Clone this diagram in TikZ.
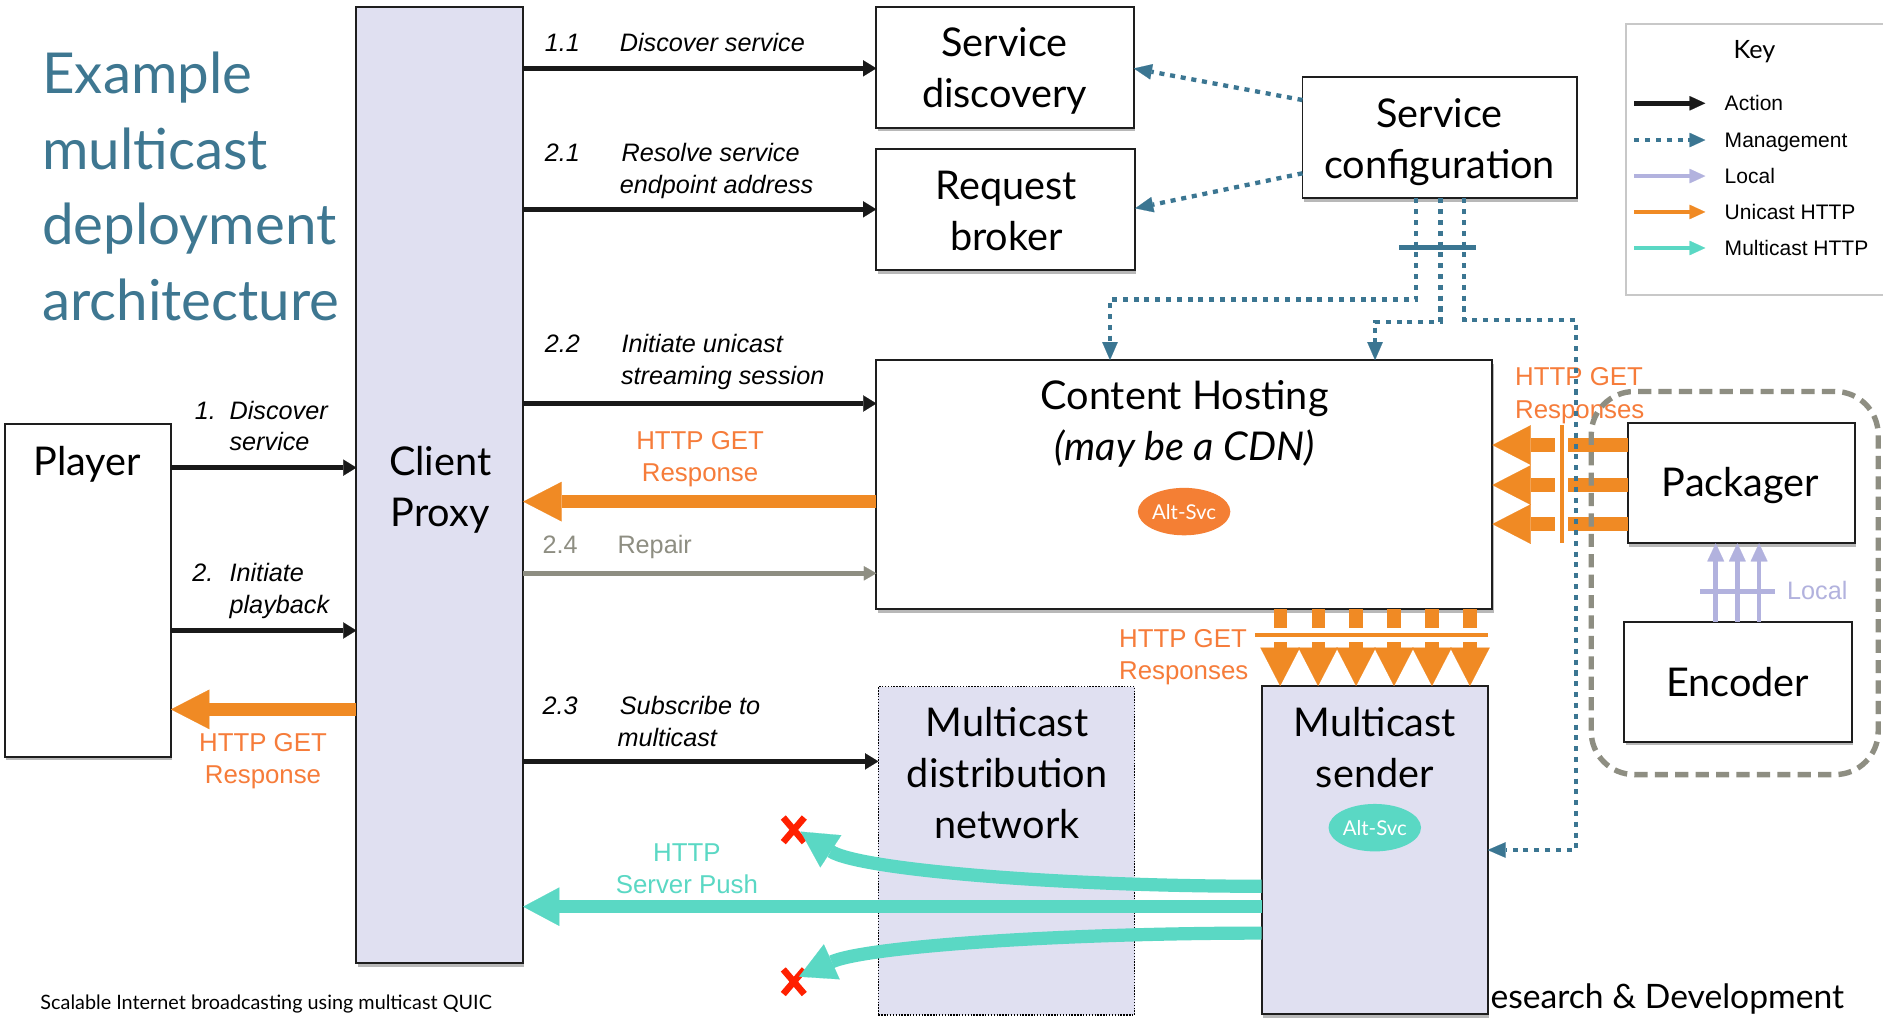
\documentclass[tikz,border=0pt]{standalone}
\usepackage{fontspec}
\setmainfont{Lato}
\newfontfamily\helv{Liberation Sans}
\usetikzlibrary{arrows.meta,shadows,shapes.geometric,shapes.misc}

\definecolor{titleblue}{RGB}{62,119,145}
\definecolor{mgmt}{RGB}{59,118,146}
\definecolor{uniorange}{RGB}{240,138,36}
\definecolor{unitext}{RGB}{246,124,58}
\definecolor{altorange}{RGB}{244,127,52}
\definecolor{multiteal}{RGB}{90,216,196}
\definecolor{lavfill}{RGB}{224,224,241}
\definecolor{localblue}{RGB}{178,178,222}
\definecolor{repairgray}{RGB}{142,142,130}
\definecolor{keygray}{RGB}{200,200,200}
\definecolor{boxline}{RGB}{30,30,30}
\definecolor{dropred}{RGB}{255,32,0}

\tikzset{
  box/.style={rectangle, draw=boxline, line width=1.6pt, fill=white, inner sep=0pt, outer sep=0pt,
    drop shadow={shadow xshift=1pt, shadow yshift=-3pt, opacity=0.28, fill=black}},
  lavbox/.style={box, fill=lavfill},
  mdnbox/.style={rectangle, draw=black, line width=1.1pt, dash pattern=on 1.2pt off 1.2pt,
    fill=lavfill, inner sep=0pt, outer sep=0pt},
  title/.style={inner sep=0pt, anchor=base west, text=titleblue, font=\fontsize{47}{56}\selectfont},
  boxtxt/.style={inner sep=0pt, anchor=base, font=\fontsize{33}{40}\selectfont},
  steplbl/.style={inner sep=0pt, anchor=base west, font=\helv\itshape\fontsize{21}{25}\selectfont},
  httplbl/.style={inner sep=0pt, anchor=base, text=unitext, font=\helv\fontsize{21.5}{26}\selectfont},
  keylbl/.style={inner sep=0pt, anchor=base west, font=\helv\fontsize{17.5}{21}\selectfont},
  alt/.style={ellipse, inner sep=0pt, minimum width=77pt, minimum height=39.5pt, text=white,
    font=\fontsize{17}{20}\selectfont},
  action/.style={draw=black!90, line width=3.9pt, -{Triangle[length=11pt,width=13.5pt,line width=0.1pt]}},
  repair/.style={draw=repairgray, line width=4.4pt, -{Triangle[length=10.5pt,width=12pt,line width=0.1pt]}},
  unicast/.style={draw=uniorange, line width=11pt, -{Triangle[length=32pt,width=33pt,line width=0.1pt]}},
  multicast/.style={draw=multiteal, line width=11pt, -{Triangle[length=30pt,width=32pt,line width=0.1pt]}},
  localarr/.style={draw=localblue, line width=4pt, -{Triangle[length=15pt,width=14pt,line width=0.1pt]}},
  mgmtline/.style={draw=mgmt, line width=3.6pt, dash pattern=on 4.2pt off 4.8pt},
  mgmtarr/.style={mgmtline, -{Triangle[length=15pt,width=13pt,line width=0.1pt]}},
  keyarr/.style={line width=4pt, -{Triangle[length=13pt,width=12pt,line width=0.1pt]}},
  bundlehalo/.style={draw=white, line width=11pt},
  bundlebar/.style={line width=3.5pt},
  dropx/.style={cross out, draw=dropred, line width=5.5pt, minimum width=12pt, minimum height=15pt, inner sep=0pt},
}

\begin{document}
\begin{tikzpicture}[x=1pt,y=-1pt]
\useasboundingbox (0,0) rectangle (1568,847);
\clip (0,0) rectangle (1568,847);
\fill[white] (0,0) rectangle (1568,847);

% ---- title and footer ----
\node[title] (ttl1) at (35,78) {Example};
\node[title] (ttl2) at (35,141) {multicast};
\node[title] (ttl3) at (35,204) {deployment};
\node[title] (ttl4) at (35,267) {architecture};
\node[inner sep=0pt, anchor=base west, font=\fontsize{16.5}{20}\selectfont] (foot)
  at (33.5,840.5) {Scalable Internet broadcasting using multicast QUIC};
\node[inner sep=0pt, anchor=base west, font=\fontsize{28}{32}\selectfont] (rnd)
  at (1241,840) {esearch \& Development};

% ---- key ----
\node[draw=keygray, line width=2pt, fill=white, inner sep=0pt, minimum width=240pt,
  minimum height=225.9pt, anchor=north west] (key) at (1352.8,18.9) {};
\node[inner sep=0pt, anchor=base, font=\fontsize{21}{25}\selectfont] (keyttl) at (1461,48.6) {Key};
\coordinate (ka0) at (1361,86);    \coordinate (ka1) at (1420,86);
\coordinate (km0) at (1361,116.6); \coordinate (km1) at (1420,116.6);
\coordinate (kl0) at (1361,146.6); \coordinate (kl1) at (1420,146.6);
\coordinate (ku0) at (1361,176.5); \coordinate (ku1) at (1420,176.5);
\coordinate (kt0) at (1361,206.5); \coordinate (kt1) at (1420,206.5);
\draw[keyarr, draw=black!90] (ka0) -- (ka1);
\draw[keyarr, mgmtline] (km0) -- (km1);
\draw[keyarr, draw=localblue] (kl0) -- (kl1);
\draw[keyarr, draw=uniorange] (ku0) -- (ku1);
\draw[keyarr, draw=multiteal] (kt0) -- (kt1);
\node[keylbl] (kla) at (1436,92.3) {Action};
\node[keylbl] (klm) at (1436,123) {Management};
\node[keylbl] (kll) at (1436,153) {Local};
\node[keylbl] (klu) at (1436,183) {Unicast HTTP};
\node[keylbl] (klt) at (1436,213) {Multicast HTTP};

% ---- boxes ----
\node[box, minimum width=138.6pt, minimum height=277pt] (player) at (73.1,491.5) {};
\node[lavbox, minimum width=138.9pt, minimum height=796.4pt] (cp) at (366.25,403.8) {};
\node[box, minimum width=214.5pt, minimum height=100.2pt] (sd) at (836.95,56.2) {};
\node[box, minimum width=215.6pt, minimum height=100.4pt] (rb) at (837.5,174.6) {};
\node[box, minimum width=228.6pt, minimum height=100.8pt] (sc) at (1198.9,114.8) {};
\node[box, minimum width=512.9pt, minimum height=207.6pt] (ch) at (986.25,403.6) {};
\node[mdnbox, minimum width=213.4pt, minimum height=273.4pt] (mdn) at (838.1,708.5) {};
\node[lavbox, minimum width=188.2pt, minimum height=273.2pt] (ms) at (1144.7,707.8) {};
\node[box, minimum width=189.3pt, minimum height=100.4pt] (pk) at (1450,402.2) {};
\node[box, minimum width=189.4pt, minimum height=99.9pt] (en) at (1447.3,567.65) {};

% box texts
\node[boxtxt] (playerA) at (72.7,395.6) {Player};
\node[boxtxt] (cpA) at (366.6,396) {Client};
\node[boxtxt] (cpB) at (366.6,438) {Proxy};
\node[boxtxt] (sdA) at (836.5,47.2) {Service};
\node[boxtxt] (sdB) at (836.5,89.4) {discovery};
\node[boxtxt] (rbA) at (838,166.5) {Request};
\node[boxtxt] (rbB) at (838,208.8) {broker};
\node[boxtxt] (scA) at (1198.8,106) {Service};
\node[boxtxt] (scB) at (1198.8,148.5) {configuration};
\node[boxtxt] (chA) at (986.4,341.4) {Content Hosting};
\node[boxtxt, font=\itshape\fontsize{33}{40}\selectfont] (chB) at (986.4,383.6) {(may be a CDN)};
\node[boxtxt] (pkA) at (1449.4,413.6) {Packager};
\node[boxtxt] (enA) at (1447,580) {Encoder};
\node[boxtxt] (mdnA) at (838.6,613.4) {Multicast};
\node[boxtxt] (mdnB) at (838.6,656) {distribution};
\node[boxtxt] (mdnC) at (838.6,698) {network};
\node[boxtxt] (msA) at (1144.8,613.4) {Multicast};
\node[boxtxt] (msB) at (1144.8,656) {sender};
\node[alt, fill=altorange] (altch) at (986,426) {Alt-Svc};
\node[alt, fill=multiteal] (altms) at (1144.8,689.2) {Alt-Svc};

% ---- player <-> client proxy ----
\draw[action] (player.east |- 0,389.4) -- (cp.west |- 0,389.4);
\draw[action] (player.east |- 0,525) -- (cp.west |- 0,525);
\draw[unicast] (cp.west |- 0,590.7) -- (player.east |- 0,590.7);
\node[steplbl] (l1n) at (162,349) {1.};
\node[steplbl] (l1a) at (191,349) {Discover};
\node[steplbl] (l1b) at (191,375) {service};
\node[steplbl] (l2n) at (160,484.4) {2.};
\node[steplbl] (l2a) at (191,484.4) {Initiate};
\node[steplbl] (l2b) at (191,510.7) {playback};
\node[httplbl] (prA) at (219,626) {HTTP GET};
\node[httplbl] (prB) at (219,652.3) {Response};

% ---- client proxy -> services ----
\draw[action] (cp.east |- 0,56.9) -- (sd.west |- 0,56.9);
\draw[action] (cp.east |- 0,174.3) -- (rb.west |- 0,174.3);
\draw[action] (cp.east |- 0,336) -- (ch.west |- 0,336);
\draw[unicast] (ch.west |- 0,417.7) -- (cp.east |- 0,417.7);
\draw[repair] (cp.east |- 0,477.4) -- (ch.west |- 0,477.4);
\draw[action] (cp.east |- 0,634) -- (mdn.west |- 0,634);
\node[steplbl] (l11n) at (453.5,43) {1.1};
\node[steplbl] (l11a) at (516,43) {Discover service};
\node[steplbl] (l21n) at (453.5,134.6) {2.1};
\node[steplbl] (l21a) at (517.4,134.6) {Resolve service};
\node[steplbl] (l21b) at (516,161) {endpoint address};
\node[steplbl] (l22n) at (453.5,293.7) {2.2};
\node[steplbl] (l22a) at (517.4,293.7) {Initiate unicast};
\node[steplbl] (l22b) at (517,319.8) {streaming session};
\node[steplbl] (l23n) at (451.7,594.6) {2.3};
\node[steplbl] (l23a) at (516,594.6) {Subscribe to};
\node[steplbl] (l23b) at (514,621.3) {multicast};
\node[steplbl, font=\helv\fontsize{21}{25}\selectfont, text=repairgray] (l24n) at (451.7,460.8) {2.4};
\node[steplbl, font=\helv\fontsize{21}{25}\selectfont, text=repairgray] (l24a) at (514,460.8) {Repair};
\node[httplbl] (crA) at (583,374.2) {HTTP GET};
\node[httplbl] (crB) at (583,401) {Response};

% ---- packager -> content hosting ----
\foreach \yy in {370.6,403.9,436.4}
  \draw[unicast] (pk.west |- 0,\yy) -- (ch.east |- 0,\yy);
\draw[bundlehalo] (1300.5,354) -- (1300.5,452);
\draw[bundlebar, draw=uniorange] (1300.5,354) -- (1300.5,452);
\node[httplbl, anchor=base west] (pkrA) at (1261.5,321.4) {HTTP GET};
\node[httplbl, anchor=base west] (pkrB) at (1261.5,348.4) {Responses};

% ---- content hosting -> multicast sender ----
\foreach \xx in {1066,1097.6,1129.2,1160.8,1192.4,1224}
  \draw[unicast] (ch.south -| \xx,0) -- (ms.north -| \xx,0);
\draw[bundlehalo] (1045,528.8) -- (1239,528.8);
\draw[bundlebar, draw=uniorange] (1045,528.8) -- (1239,528.8);
\node[httplbl, anchor=base west] (msrA) at (931.7,539) {HTTP GET};
\node[httplbl, anchor=base west] (msrB) at (931.7,565.7) {Responses};

% ---- management ----
\draw[mgmtarr] (sc.west |- 0,83.3) -- (sd.east |- 0,57);
\draw[mgmtarr] (sc.west |- 0,144.3) -- (rb.east |- 0,173.5);
\draw[mgmtarr] (sc.south -| 1179,0) |- (924.3,249.3) -- (ch.north -| 924.3,0);
\draw[mgmtarr] (sc.south -| 1199.4,0) |- (1145,267.9) -- (ch.north -| 1145,0);
\draw[mgmtarr] (sc.south -| 1219.3,0) |- (1312.2,266.5) |- (ms.east |- 0,707.8);
\draw[draw=mgmt, line width=4.5pt] (1165,206.2) -- (1228.8,206.2);

% ---- packaging group ----
\node[draw=repairgray, line width=4.5pt, dash pattern=on 11pt off 6pt, rounded corners=36pt,
  minimum width=239pt, minimum height=319pt, inner sep=0pt] (grp) at (1444.5,485.5) {};

% ---- encoder -> packager ----
\foreach \xx in {1428.7,1446.7,1464.8}
  \draw[localarr] (en.north -| \xx,0) -- (pk.south -| \xx,0);
\draw[draw=localblue, line width=4pt] (1415.6,492.7) -- (1478,492.7);
\node[inner sep=0pt, anchor=base west, text=localblue, font=\helv\fontsize{21}{25}\selectfont]
  (loc) at (1488,499.6) {Local};

% ---- multicast push ----
\node[dropx] (dropA) at (661,691) {};
\node[dropx] (dropB) at (661,817.5) {};
\coordinate (tipA) at (666.7,692.5);
\coordinate (tipB) at (665.3,813.3);
\draw[multicast] (ms.west |- 0,738) .. controls (880,738) and (715,724) .. (tipA);
\draw[multicast] (ms.west |- 0,755) -- (cp.east |- 0,755);
\draw[multicast] (ms.west |- 0,777) .. controls (880,777) and (720,788.5) .. (tipB);
\node[httplbl, text=multiteal] (pushA) at (572,717.5) {HTTP};
\node[httplbl, text=multiteal] (pushB) at (572,743.9) {Server Push};
\end{tikzpicture}
\end{document}
